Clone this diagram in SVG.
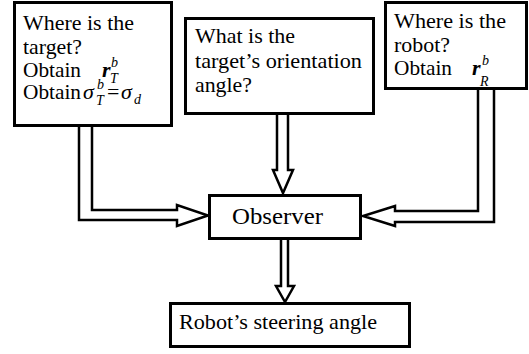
<svg xmlns="http://www.w3.org/2000/svg" width="529" height="354" viewBox="0 0 529 354" font-family="Liberation Serif, DejaVu Serif, Times New Roman, serif" font-size="22">
<defs>
<style>
.box{fill:#fff;stroke:#000;stroke-width:3}
.con{fill:#fff;stroke:#000;stroke-width:2.5;stroke-linejoin:miter}
.m{font-style:italic}
.mb{font-style:italic;font-weight:bold}
.s{font-style:italic;font-size:14px}
</style>
</defs>
<rect width="529" height="354" fill="#fff"/>
<g id="connectors">
<path class="con" d="M79,127 V220 H177 V226 L208,215.5 L177,205 V210 H92 V127"/>
<path class="con" d="M277,115 V170 H273 L283,193 L293,170 H288 V115"/>
<path class="con" d="M478,90 V211 H395 V206 L363,216 L395,226 V222 H494 V90"/>
<path class="con" d="M281,240 V286 H276 L285,302 L294,286 H288 V240"/>
</g>
<g id="target">
<rect class="box" x="14.5" y="2.5" width="157" height="123"/>
<text font-family="Liberation Serif" x="23" y="30" textLength="111" lengthAdjust="spacingAndGlyphs">Where is the</text>
<text font-family="Liberation Serif" x="23" y="54" textLength="59" lengthAdjust="spacingAndGlyphs">target?</text>
<text font-family="Liberation Serif" x="23" y="77" textLength="58" lengthAdjust="spacingAndGlyphs">Obtain</text>
<text font-family="Liberation Serif" class="mb" x="102" y="77">r</text>
<text font-family="Liberation Serif" class="s" x="111" y="67">b</text>
<text font-family="Liberation Serif" class="s" x="110" y="83">T</text>
<text font-family="Liberation Serif" x="23" y="99" textLength="58" lengthAdjust="spacingAndGlyphs">Obtain</text>
<text font-family="Liberation Serif" class="m" x="83" y="99">σ</text>
<text font-family="Liberation Serif" class="s" x="97" y="89">b</text>
<text font-family="Liberation Serif" class="s" x="96" y="105">T</text>
<text font-family="Liberation Serif" x="107" y="99">=</text>
<text font-family="Liberation Serif" class="m" x="121" y="99">σ</text>
<text font-family="Liberation Serif" class="s" x="134" y="104">d</text>
</g>
<g id="orientation">
<rect class="box" x="185.5" y="18.5" width="188" height="95"/>
<text font-family="Liberation Serif" x="195" y="43" textLength="100" lengthAdjust="spacingAndGlyphs">What is the</text>
<text font-family="Liberation Serif" x="195" y="68" textLength="167" lengthAdjust="spacingAndGlyphs">target’s orientation</text>
<text font-family="Liberation Serif" x="195" y="92" textLength="57" lengthAdjust="spacingAndGlyphs">angle?</text>
</g>
<g id="robot">
<rect class="box" x="385.5" y="2.5" width="141" height="86"/>
<text font-family="Liberation Serif" x="394" y="28" textLength="112" lengthAdjust="spacingAndGlyphs">Where is the</text>
<text font-family="Liberation Serif" x="394" y="52" textLength="56" lengthAdjust="spacingAndGlyphs">robot?</text>
<text font-family="Liberation Serif" x="394" y="75" textLength="58" lengthAdjust="spacingAndGlyphs">Obtain</text>
<text font-family="Liberation Serif" class="mb" x="472" y="75">r</text>
<text font-family="Liberation Serif" class="s" x="482" y="65">b</text>
<text font-family="Liberation Serif" class="s" x="480" y="86">R</text>
</g>
<g id="observer">
<rect class="box" x="209.5" y="195.5" width="151" height="43"/>
<text font-family="Liberation Serif" x="232" y="224" font-size="24" textLength="91" lengthAdjust="spacingAndGlyphs">Observer</text>
</g>
<g id="steering">
<rect class="box" x="170.5" y="303.5" width="239" height="43"/>
<text font-family="Liberation Serif" x="179" y="329" textLength="198" lengthAdjust="spacingAndGlyphs">Robot’s steering angle</text>
</g>
</svg>
